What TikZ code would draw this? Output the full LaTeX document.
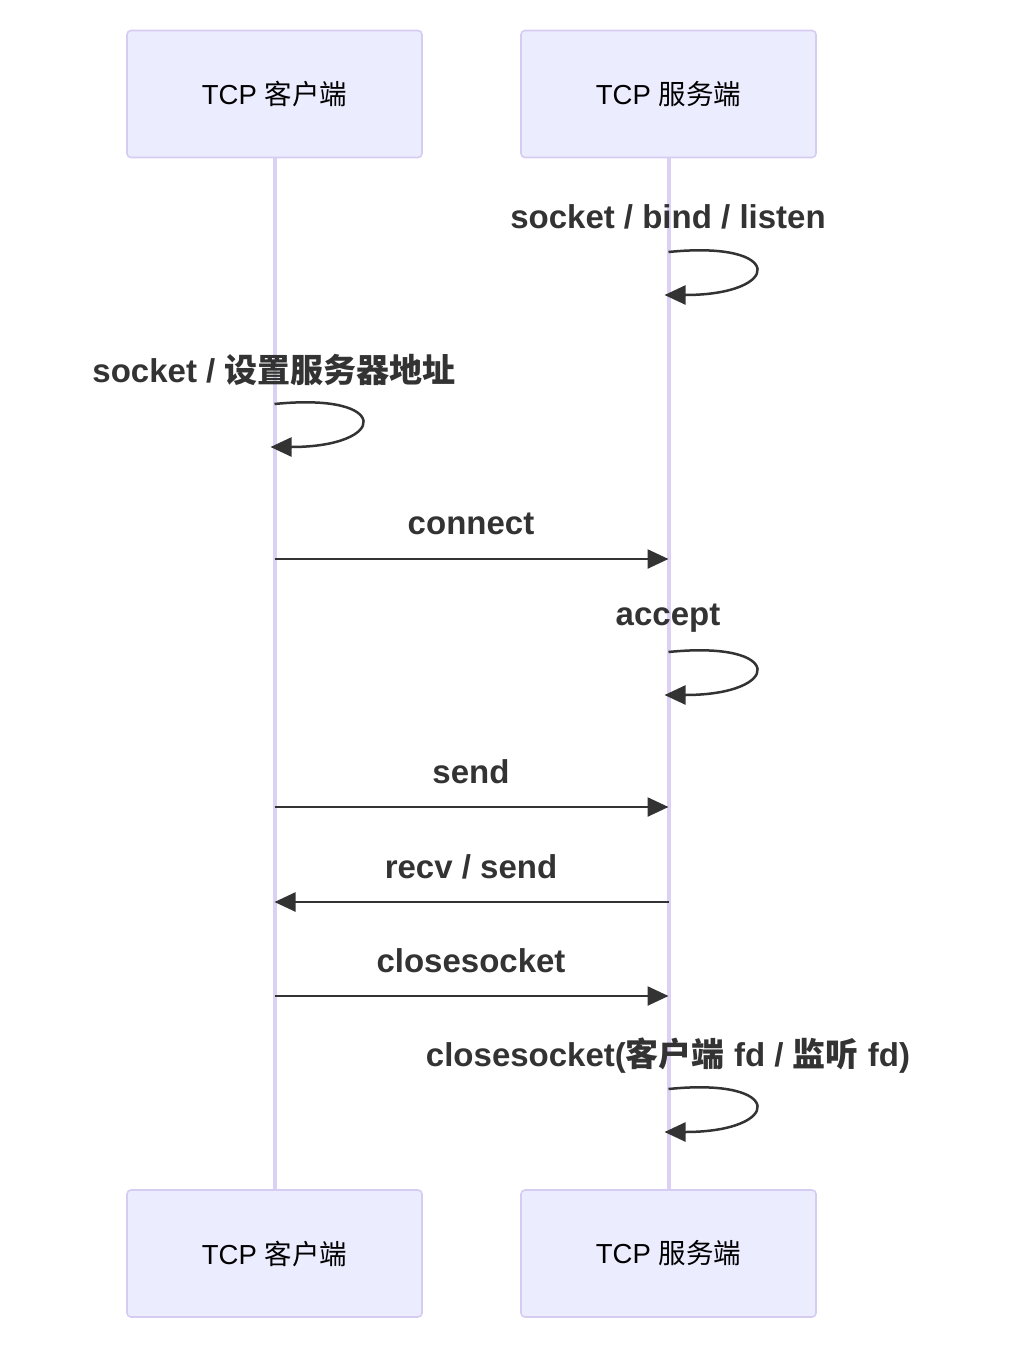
\documentclass[tikz,border=0pt]{standalone}
\usepackage{fontspec}
\setmainfont{Liberation Sans}
\newfontfamily\cjk{Noto Sans CJK SC}
\usetikzlibrary{arrows.meta}
\definecolor{actorfill}{HTML}{ECECFF}
\definecolor{actorline}{HTML}{D6CCF2}
\definecolor{lifeline}{HTML}{DCD0F4}
\definecolor{msgcol}{HTML}{333333}
\begin{document}
\begin{tikzpicture}[x=1pt,y=-1pt,
actor/.style={draw=actorline,fill=actorfill,line width=1.6pt,rounded corners=4pt,minimum width=295pt,minimum height=127pt,font=\fontsize{27.5}{32}\selectfont},
msg/.style={draw=msgcol,line width=2.5pt,-{Triangle[length=21pt,width=19pt]}},
lbl/.style={text=msgcol,font=\fontsize{33}{38}\selectfont\bfseries,inner sep=0pt}]

\useasboundingbox (0,0) rectangle (1022,1350);

\node[actor](c0) at (274.5,94){TCP {\cjk 客户端}};
\node[actor](s0) at (668.5,94){TCP {\cjk 服务端}};
\node[actor](c1) at (274.5,1253.5){TCP {\cjk 客户端}};
\node[actor](s1) at (668.5,1253.5){TCP {\cjk 服务端}};

\draw[lifeline,line width=4pt](c0)--(c1);
\draw[lifeline,line width=4pt](s0)--(s1);

% self messages
\foreach \n/\x/\y in {sa/668.5/252,cb/274.5/404,sc/668.5/652,sd/668.5/1089}{
\coordinate(\n1) at (\x,\y);
\coordinate(\n2) at (\x-4,\y+43);
\draw[msg](\n1) .. controls +(118,-12) and +(118,0) .. (\n2);
}
\node[lbl] at (668,217){socket / bind / listen};
\node[lbl] at (274,370){socket / {\cjk\bfseries 设置服务器地址}};
\node[lbl] at (668,618){accept};
\node[lbl] at (668,1056){closesocket({\cjk\bfseries 客户端} fd / {\cjk\bfseries 监听} fd)};

% messages between lifelines
\foreach \n/\y in {m1/559,m2/807,m3/902,m4/996}{
\coordinate(c\n) at (274.5,\y);
\coordinate(s\n) at (668.5,\y);
}
\draw[msg](cm1)--(sm1);
\draw[msg](cm2)--(sm2);
\draw[msg](sm3)--(cm3);
\draw[msg](cm4)--(sm4);
\node[lbl] at (471,524){connect};
\node[lbl] at (471,772){send};
\node[lbl] at (471,867){recv / send};
\node[lbl] at (471,961){closesocket};

\end{tikzpicture}
\end{document}
